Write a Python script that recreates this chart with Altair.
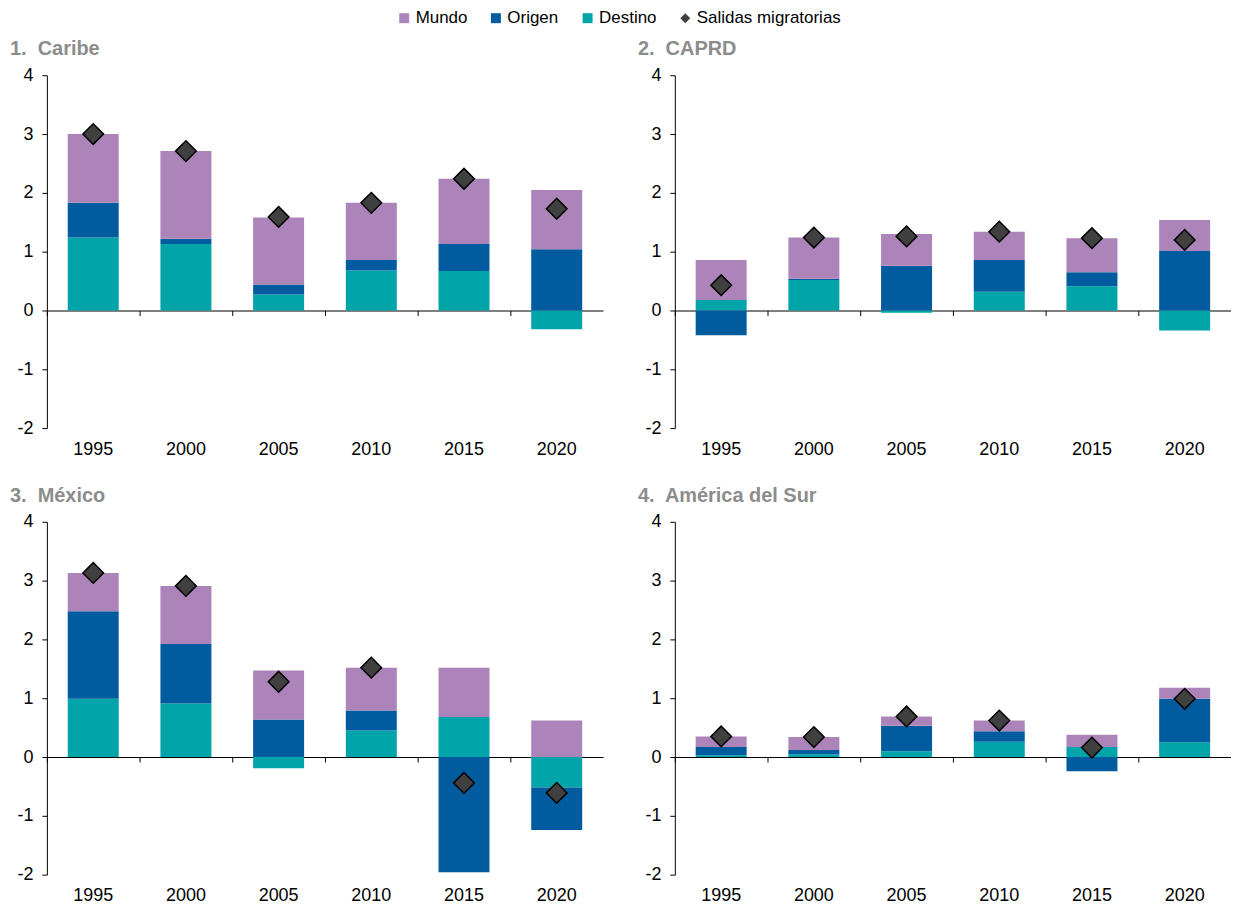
import altair as alt
import pandas as pd

years = ["1995", "2000", "2005", "2010", "2015", "2020"]
regions = ["1.\u00a0 Caribe", "2.\u00a0 CAPRD", "3.\u00a0 México", "4.\u00a0 América del Sur"]

destino = [
    [1.24, 1.13, 0.27, 0.68, 0.67, -0.32],
    [0.18, 0.52, -0.04, 0.32, 0.41, -0.34],
    [0.99, 0.91, -0.19, 0.45, 0.68, -0.52],
    [0.03, 0.045, 0.10, 0.26, 0.17, 0.25],
]
origen = [
    [0.59, 0.09, 0.17, 0.18, 0.46, 1.04],
    [-0.42, 0.02, 0.76, 0.54, 0.24, 1.01],
    [1.49, 1.01, 0.64, 0.34, -1.96, -0.72],
    [0.14, 0.075, 0.43, 0.18, -0.24, 0.74],
]
mundo = [
    [1.17, 1.49, 1.14, 0.97, 1.11, 1.01],
    [0.68, 0.70, 0.54, 0.48, 0.58, 0.53],
    [0.65, 0.99, 0.83, 0.73, 0.84, 0.62],
    [0.18, 0.22, 0.16, 0.18, 0.21, 0.19],
]
salidas = [
    [3.00, 2.71, 1.59, 1.83, 2.24, 1.73],
    [0.43, 1.24, 1.26, 1.34, 1.23, 1.20],
    [3.13, 2.91, 1.28, 1.52, -0.44, -0.61],
    [0.35, 0.34, 0.69, 0.62, 0.16, 0.99],
]

series_domain = ["Mundo", "Origen", "Destino", "Salidas migratorias"]
series_colors = ["#AC84BA", "#005C9E", "#00A4A9", "#404040"]
series_shapes = ["square", "square", "square", "diamond"]

bar_rows = []
pt_rows = []
for r, reg in enumerate(regions):
    for i, yr in enumerate(years):
        bar_rows.append(dict(region=reg, year=yr, serie="Destino", value=destino[r][i], ord=0))
        bar_rows.append(dict(region=reg, year=yr, serie="Origen", value=origen[r][i], ord=1))
        bar_rows.append(dict(region=reg, year=yr, serie="Mundo", value=mundo[r][i], ord=2))
        pt_rows.append(dict(region=reg, year=yr, serie="Salidas migratorias", value=salidas[r][i]))
bars_df = pd.DataFrame(bar_rows)
pts_df = pd.DataFrame(pt_rows)

W, H = 558, 354
ZERO_OFF = -H * 2 / 6
FONT = "Liberation Sans"

legend = alt.Legend(
    title=None, orient="none", legendX=350, legendY=-66, direction="horizontal",
    labelFontSize=17, labelFont=FONT, labelColor="black", symbolSize=100,
    columnPadding=20, labelOffset=3, symbolStrokeWidth=0,
)
color = alt.Color("serie:N", scale=alt.Scale(domain=series_domain, range=series_colors), legend=legend)
shape = alt.Shape("serie:N", scale=alt.Scale(domain=series_domain, range=series_shapes), legend=legend)

y_axis = alt.Axis(title=None, values=[-2, -1, 0, 1, 2, 3, 4], grid=False, labelExpr="'' + datum.value",
                  labelFontSize=18, labelFont=FONT, labelColor="black", domainColor="black",
                  tickColor="black", tickSize=5, labelPadding=9)
y_scale = alt.Scale(domain=[-2, 4], nice=False)


def panel(reg):
    x_labels = alt.X(
        "year:N", sort=years, scale=alt.Scale(paddingInner=0, paddingOuter=0),
        axis=alt.Axis(title=None, labelAngle=0, domain=False, ticks=False, labelFontSize=18,
                      labelFont=FONT, labelColor="black", labelPadding=12, orient="bottom"),
    )
    x_zero = alt.X(
        "year:N", sort=years,
        axis=alt.Axis(title=None, labels=False, domain=True, domainColor="black", ticks=True,
                      tickColor="black", tickSize=5, bandPosition=0, offset=ZERO_OFF,
                      orient="bottom", domainWidth=1.2),
    )
    bars = alt.Chart(bars_df).transform_filter(alt.datum.region == reg).mark_bar(
        width={"band": 0.55}
    ).encode(
        x=x_labels,
        y=alt.Y("value:Q", stack="zero", scale=y_scale, axis=y_axis),
        color=color, order=alt.Order("ord:Q"),
    )
    pts = alt.Chart(pts_df).transform_filter(alt.datum.region == reg).mark_point(
        filled=True, size=430, stroke="black", strokeWidth=1.5, opacity=1
    ).encode(
        x=x_zero,
        y=alt.Y("value:Q", scale=y_scale, axis=y_axis),
        color=color, shape=shape,
    )
    return alt.layer(bars, pts).resolve_axis(x="independent").properties(
        width=W, height=H,
        title=alt.TitleParams(text=reg, anchor="start", frame="group", fontSize=20, fontWeight="bold",
                              color="#8C8C8C", font=FONT, dx=-37, offset=7),
    )


row1 = alt.hconcat(panel(regions[0]), panel(regions[1]), spacing=35)
row2 = alt.hconcat(panel(regions[2]), panel(regions[3]), spacing=35)
chart = alt.vconcat(row1, row2, spacing=28).configure_view(stroke=None).properties(
    padding={"left": 2, "top": 0, "right": 0, "bottom": 0}
)

chart.save("out.html", embed_options={"renderer": "svg", "actions": False})
